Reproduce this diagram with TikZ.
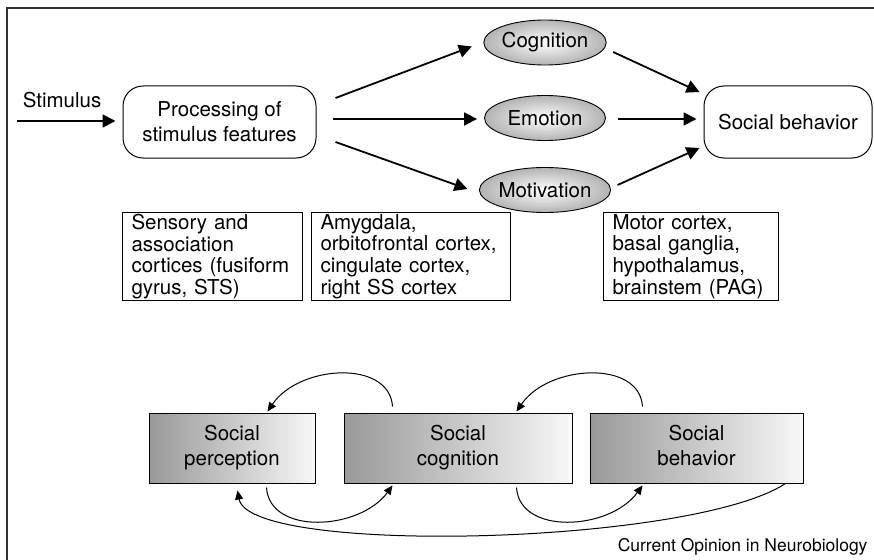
\documentclass[tikz,border=0pt]{standalone}
\usepackage{fontspec}
\setmainfont{TeX Gyre Heros}
\usetikzlibrary{arrows.meta,calc,shapes.geometric}
\begin{document}
\begin{tikzpicture}[x=1pt,y=-1pt,
  every node/.style={font=\fontsize{20.5}{25}\selectfont},
  bigarr/.style={line width=1.8pt,-{Triangle[length=13pt,width=13pt]}},
  smallarr/.style={line width=1pt,-{Triangle[length=9pt,width=8pt]}},
  roundbox/.style={draw,line width=1pt,rounded corners=20pt,align=center,inner sep=0pt},
  oval/.style={ellipse,draw,line width=0.9pt,minimum width=121pt,minimum height=45pt,inner sep=0pt,
    shading=radial,inner color=white,outer color=black!30},
  textbox/.style={draw,line width=1pt,anchor=north west,align=left,inner xsep=9pt,inner ysep=0pt,
    font=\fontsize{20.5}{21.8}\selectfont},
  gradbox/.style={draw,line width=1pt,align=center,inner sep=0pt,minimum height=70pt,
    left color=black!40,right color=black!3}]
\useasboundingbox (0,0) rectangle (874,559);
% frame
\draw[line width=1.2pt,black!80] (7,8) rectangle (890,580);

% top row
\node (stim) at (62,100) {Stimulus};
\coordinate (stimstart) at (17,121);
\node[roundbox,minimum width=193pt,minimum height=72pt] (proc) at (219.5,122)
  {Processing of\\stimulus features};
\node[oval] (cog) at (545,42.5) {Cognition};
\node[oval] (emo) at (545,118) {Emotion};
\node[oval] (mot) at (545,190) {Motivation};
\node[roundbox,minimum width=168pt,minimum height=72pt] (soc) at (788,122) {Social behavior};

\draw[bigarr] (stimstart) -- ($(proc.west)+(-7,-1)$);
\draw[bigarr] ($(proc.east)+(19,-24)$) -- ($(cog.west)+(-11.5,4)$);
\draw[bigarr] ($(proc.east)+(16,-3)$) -- ($(emo.west)+(-7,1)$);
\draw[bigarr] ($(proc.east)+(19,20)$) -- ($(mot.west)+(-11.5,-1)$);
\draw[bigarr] ($(cog.east)+(6.5,9.5)$) -- ($(soc.west)+(-4,-30)$);
\draw[bigarr] ($(emo.east)+(12.5,1)$) -- ($(soc.west)+(-7,-3)$);
\draw[bigarr] ($(mot.east)+(6.5,-5)$) -- ($(soc.west)+(-4,26)$);

% region boxes
\node[textbox,text width=162pt,minimum height=88pt] (sens) at (122,212)
  {Sensory and\\association\\cortices (fusiform\\gyrus, STS)};
\node[textbox,text width=181pt,minimum height=88pt] (amyg) at (311,212)
  {Amygdala,\\orbitofrontal cortex,\\cingulate cortex,\\right SS cortex};
\node[textbox,text width=157pt,minimum height=88pt] (motor) at (603,212)
  {Motor cortex,\\basal ganglia,\\hypothalamus,\\brainstem (PAG)};

% bottom loop
\node[gradbox,minimum width=166pt] (perc) at (232,448) {Social\strut\\perception\strut};
\node[gradbox,minimum width=228pt] (cogn) at (458,448) {Social\strut\\cognition\strut};
\node[gradbox,minimum width=213pt] (beh) at (696.5,448) {Social\strut\\behavior\strut};

\draw[smallarr] ($(cogn.north west)+(49,-6)$) .. controls +(-3,-47) and +(32,-47) .. ($(perc.north west)+(119,-1)$);
\draw[smallarr] ($(beh.north west)+(53,-6)$) .. controls +(-3,-47) and +(32,-47) .. ($(cogn.north west)+(173,-1)$);
\draw[smallarr] ($(perc.south west)+(118,4)$) .. controls +(3,48) and +(-33,45) .. ($(cogn.south west)+(49,2)$);
\draw[smallarr] ($(cogn.south west)+(173,4)$) .. controls +(3,48) and +(-33,45) .. ($(beh.south west)+(53,2)$);
\draw[smallarr] ($(beh.south east)+(-18,0)$) .. controls +(-95,62) and +(12,65) .. ($(perc.south west)+(89,7)$);

\node[anchor=base east,font=\fontsize{17.5}{20}\selectfont] (src) at (871,551) {Current Opinion in Neurobiology};
\end{tikzpicture}
\end{document}
